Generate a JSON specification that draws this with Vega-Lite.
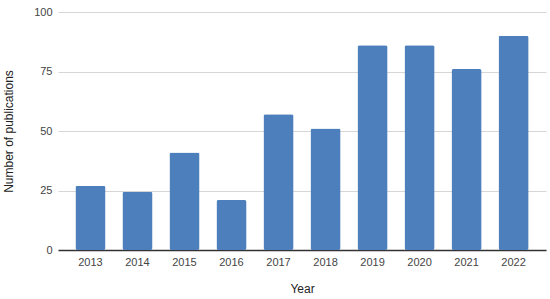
{
  "$schema": "https://vega.github.io/schema/vega-lite/v6.json",
  "autosize": {"type": "none"},
  "padding": {"left": 58, "top": 12, "right": 4, "bottom": 49},
  "width": 488,
  "height": 238,
  "background": "white",
  "config": {
    "view": {"stroke": null},
    "font": "Liberation Sans",
    "axis": {"labelFont": "Liberation Sans", "titleFont": "Liberation Sans", "labelFontSize": 11, "titleFontSize": 12, "titleFontWeight": "normal", "labelColor": "#444444", "titleColor": "#222222"}
  },
  "data": {"values": [
    {"Year": "2013", "Count": 27},
    {"Year": "2014", "Count": 24.5},
    {"Year": "2015", "Count": 41},
    {"Year": "2016", "Count": 21},
    {"Year": "2017", "Count": 57},
    {"Year": "2018", "Count": 51},
    {"Year": "2019", "Count": 86},
    {"Year": "2020", "Count": 86},
    {"Year": "2021", "Count": 76},
    {"Year": "2022", "Count": 90}
  ]},
  "mark": {"type": "bar", "color": "#4d7fbc", "cornerRadius": 2},
  "encoding": {
    "x": {
      "field": "Year", "type": "ordinal", "title": "Year",
      "scale": {"paddingInner": 0.36, "paddingOuter": 0.37},
      "axis": {"labelAngle": 0, "ticks": false, "labelPadding": 6, "domainColor": "#333333", "domainWidth": 1.3, "titlePadding": 16, "grid": false}
    },
    "y": {
      "field": "Count", "type": "quantitative", "title": "Number of publications",
      "scale": {"domain": [0, 100]},
      "axis": {"values": [0, 25, 50, 75, 100], "ticks": false, "domain": false, "labelPadding": 6, "gridColor": "#d6d6d6", "titlePadding": 18}
    }
  }
}
